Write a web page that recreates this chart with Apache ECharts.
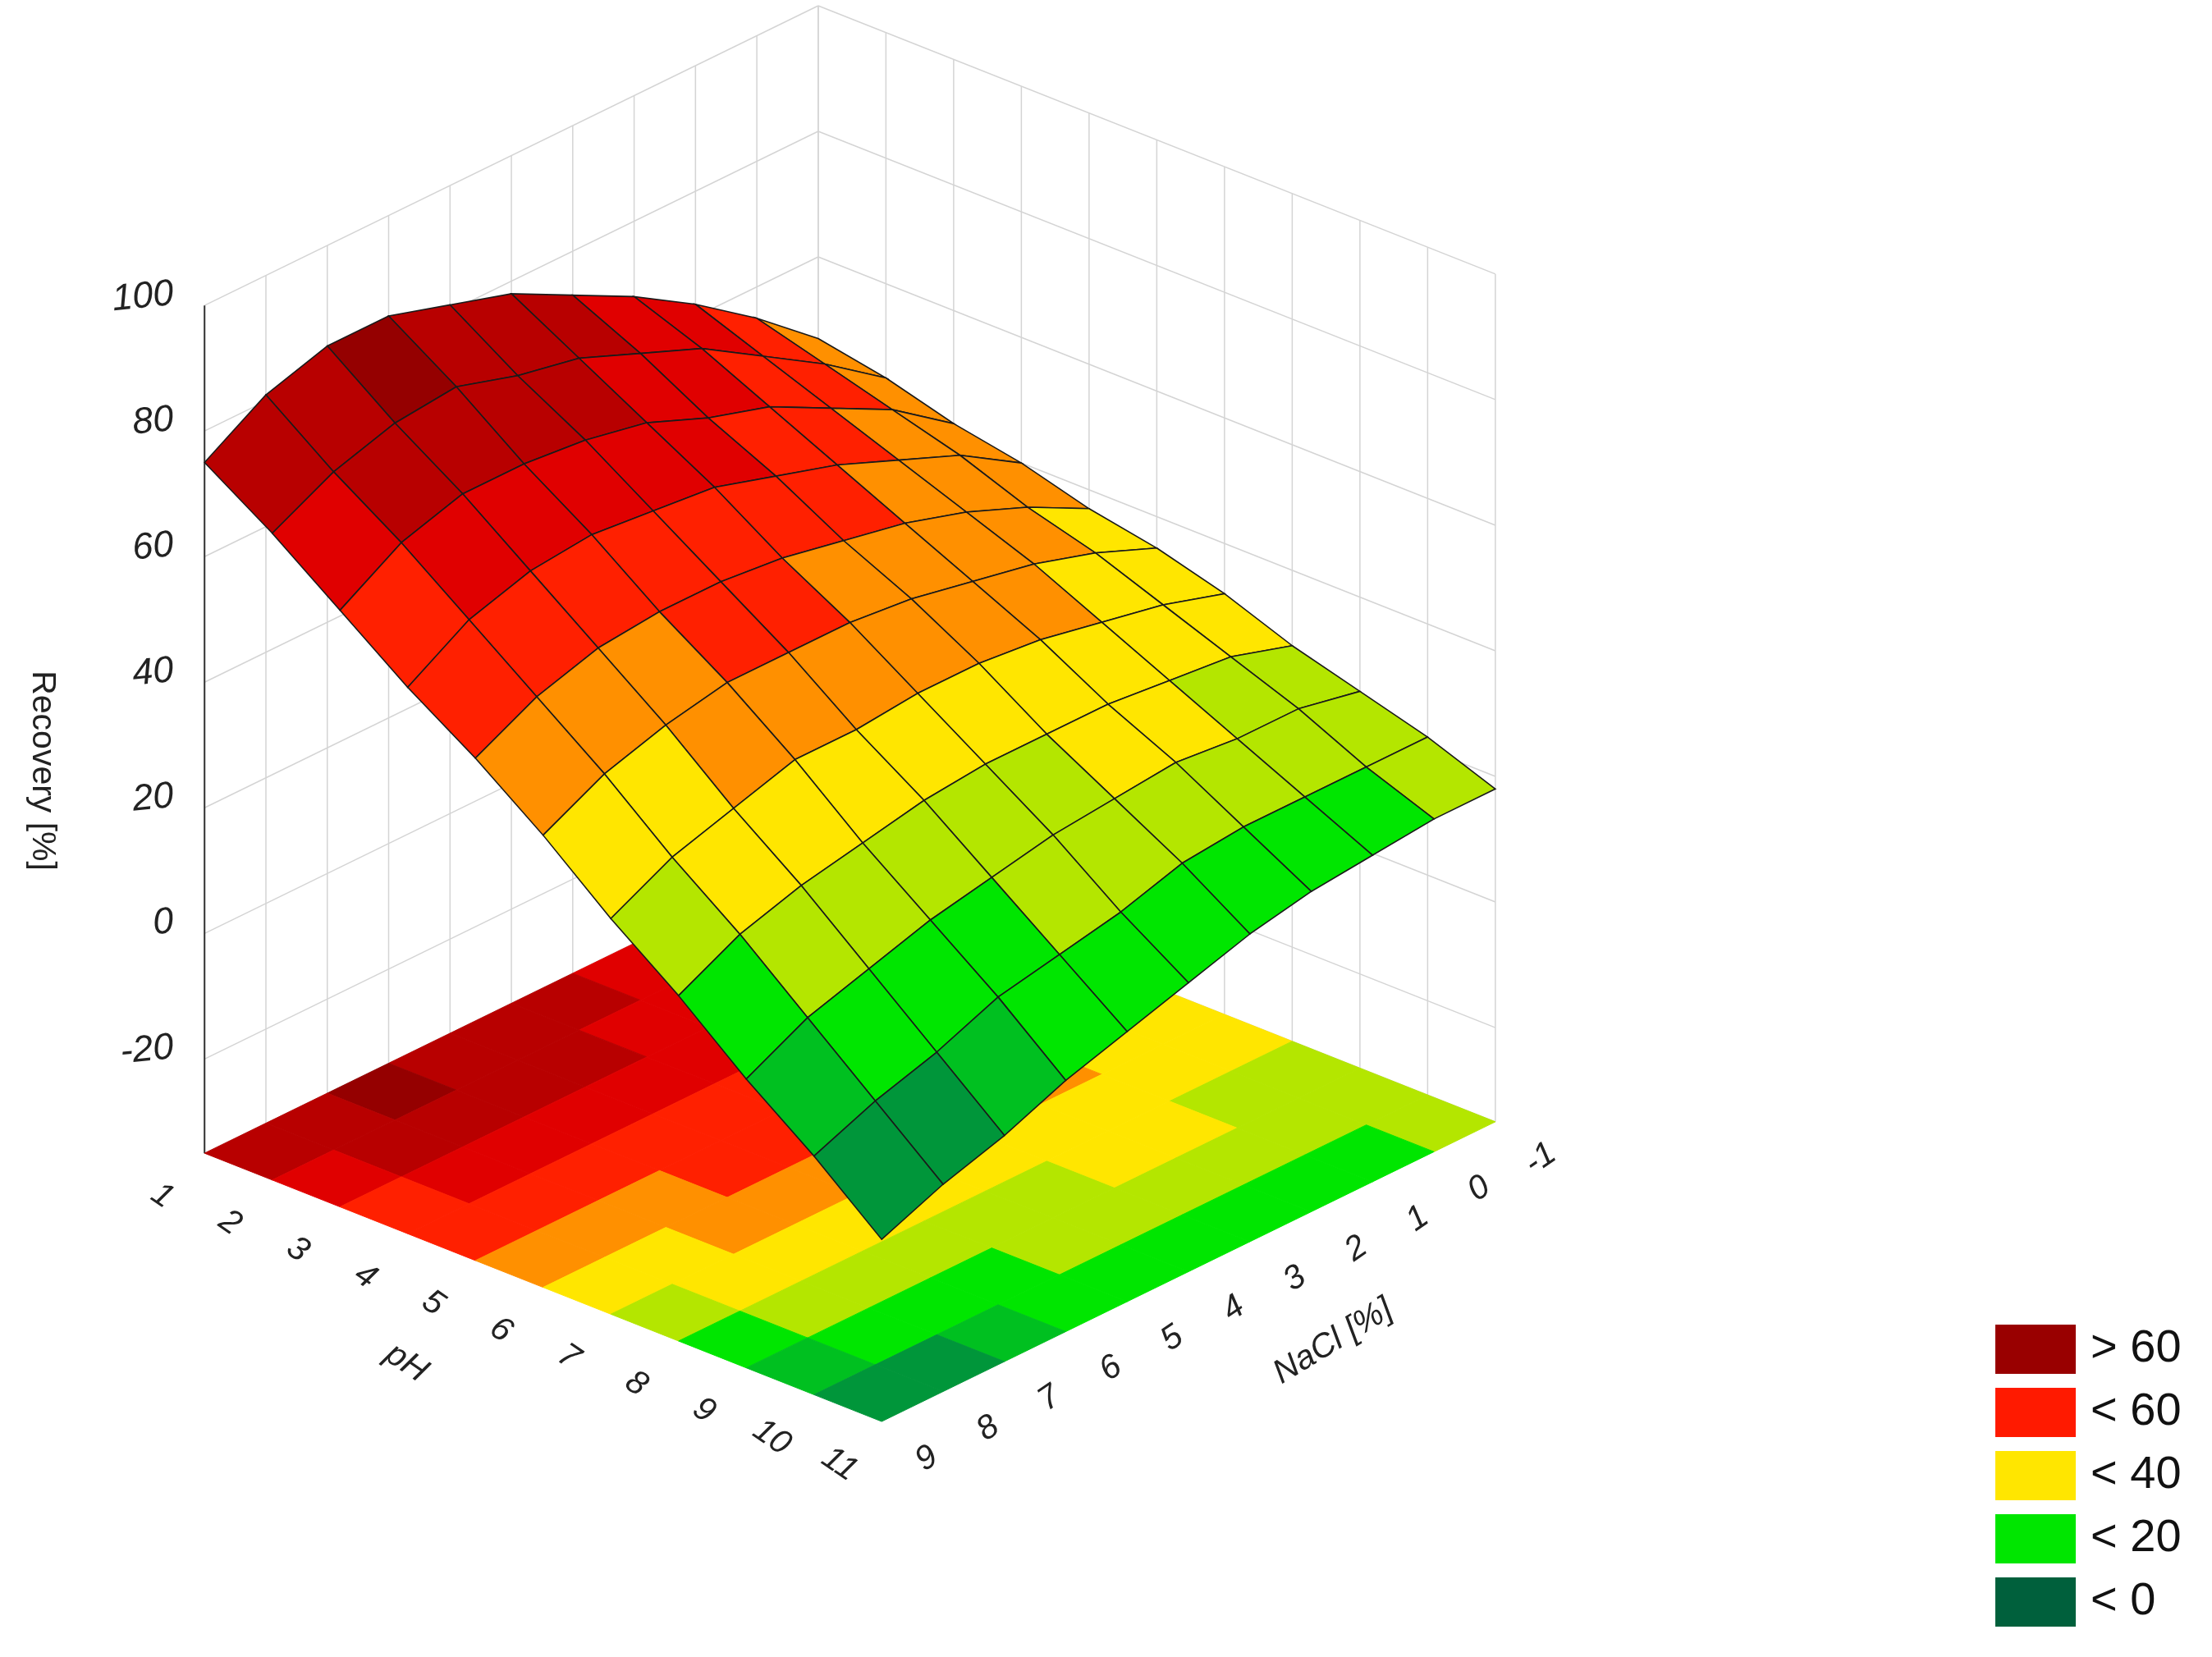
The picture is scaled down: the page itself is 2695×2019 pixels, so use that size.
<!DOCTYPE html>
<html lang="en">
<head>
    <meta charset="UTF-8">
    <title>Recovery surface</title>
    <style>
        html, body { margin: 0; height: 100%; width: 100%; background: #fff; }
    </style>
</head>
<body>
    <div id="main" style="width: 100%;height:100%;"></div>
    <script src="https://cdn.jsdelivr.net/npm/echarts@6/dist/echarts.min.js"></script>
    <script type="text/javascript">
        // axis values
        var PH = [1, 2, 3, 4, 5, 6, 7, 8, 9, 10, 11];
        var NACL = [-1, 0, 1, 2, 3, 4, 5, 6, 7, 8, 9];
        var Z_TICKS = [-20, 0, 20, 40, 60, 80, 100];
        // Recovery [%], one row per pH, columns follow NACL
        var RECOVERY = [
            [47, 55, 62, 68, 73, 78, 81, 84, 84, 81, 75],
            [45, 52, 58, 64, 68, 72, 74, 77, 76, 73, 68],
            [42, 49, 54, 59, 62, 66, 68, 69, 69, 66, 60],
            [40, 46, 50, 54, 57, 60, 61, 62, 61, 58, 52],
            [37, 42, 46, 49, 51, 53, 54, 54, 53, 50, 45],
            [35, 39, 42, 44, 46, 47, 47, 47, 45, 42, 37],
            [32, 35, 37, 39, 40, 40, 39, 39, 36, 33, 28],
            [28, 31, 32, 33, 33, 33, 32, 30, 28, 25, 20],
            [25, 27, 27, 28, 27, 26, 24, 22, 19, 16, 11],
            [22, 22, 22, 22, 21, 18, 16, 14, 10, 7, 3],
            [18, 18, 17, 16, 14, 11, 8, 5, 1, -2, -6]
        ];
        var LEGEND_LABELS = ['> 60', '< 60', '< 40', '< 20', '< 0'];

        var ZMIN = -35, ZMAX = 100;
        var S = 2695 / 1568;   // font scale

        // simple oblique projection into a 1568x1161 plane
        function proj(p, n, z) {
            var a = (p - PH[0]) / (PH[PH.length - 1] - PH[0]);
            var b = (n - NACL[0]) / (NACL[NACL.length - 1] - NACL[0]);
            return [580 + 480 * a - 435 * b, 598 + 188 * a + 210 * b - (z - ZMIN) * 4.4];
        }

        function bandColor(v) {
            var stops = [
                [-10, '#004d33'], [0, '#006b3a'], [5, '#00963a'], [10, '#00c020'],
                [20, '#00e600'], [30, '#b4e600'], [40, '#ffe600'], [50, '#ff9000'],
                [60, '#ff2000'], [70, '#e00000'], [80, '#b80000']
            ];
            for (var i = 0; i < stops.length; i++) {
                if (v < stops[i][0]) return stops[i][1];
            }
            return '#950000';
        }

        var cells = [];
        for (var i = 0; i < PH.length - 1; i++) {
            for (var j = 0; j < NACL.length - 1; j++) cells.push([i, j]);
        }
        cells.sort(function (u, v) { return (u[0] + u[1]) - (v[0] + v[1]); });

        function cellItem(api, onFloor) {
            var i = api.value(0), j = api.value(1);
            var c = [[i, j], [i + 1, j], [i + 1, j + 1], [i, j + 1]];
            var sum = 0;
            var pts = c.map(function (k) {
                var v = RECOVERY[k[0]][k[1]];
                sum += v;
                return api.coord(proj(PH[k[0]], NACL[k[1]], onFloor ? ZMIN : v));
            });
            var col = bandColor(sum / 4);
            return {
                type: 'polygon',
                shape: { points: pts },
                style: {
                    fill: col,
                    stroke: onFloor ? col : '#1a1a1a',
                    lineWidth: onFloor ? 1 : 1.6
                }
            };
        }

        function frame(params, api) {
            var kids = [];
            var gray = '#d4d4d4';
            function line(p1, p2, color, w) {
                var a = api.coord(p1), b = api.coord(p2);
                kids.push({ type: 'line', shape: { x1: a[0], y1: a[1], x2: b[0], y2: b[1] },
                    style: { stroke: color, lineWidth: w } });
            }
            function text(pt, str, opt) {
                var c = api.coord(pt);
                kids.push({ type: 'text', x: c[0], y: c[1], rotation: opt.rot || 0,
                    style: { text: str, fill: '#222', font: (opt.plain ? '' : 'italic ') + Math.round(opt.size * S) + 'px "Liberation Sans"',
                        align: opt.align || 'center', verticalAlign: 'middle' } });
            }
            var p0 = PH[0], p1 = PH[PH.length - 1], n0 = NACL[0], n1 = NACL[NACL.length - 1];
            var levels = [ZMIN].concat(Z_TICKS);
            // back walls
            levels.forEach(function (z) {
                line(proj(p0, n1, z), proj(p0, n0, z), gray, 1.5);
                line(proj(p0, n0, z), proj(p1, n0, z), gray, 1.5);
            });
            NACL.forEach(function (n) { line(proj(p0, n, ZMIN), proj(p0, n, ZMAX), gray, 1.5); });
            PH.forEach(function (p) { line(proj(p, n0, ZMIN), proj(p, n0, ZMAX), gray, 1.5); });
            // z axis
            line(proj(p0, n1, ZMIN), proj(p0, n1, ZMAX), '#333', 2);
            Z_TICKS.forEach(function (z) {
                var q = proj(p0, n1, z);
                text([q[0] - 22, q[1] - 8], String(z), { size: 26, align: 'right', rot: 0.1 });
            });
            PH.forEach(function (p) {
                var q = proj(p, n1, ZMIN);
                text([q[0] - 30, q[1] + 30], String(p), { size: 24, rot: -0.6 });
            });
            NACL.forEach(function (n) {
                var q = proj(p1, n, ZMIN);
                text([q[0] + 32, q[1] + 26], String(n), { size: 24, rot: 0.6 });
            });
            text([30, 540], 'Recovery [%]', { size: 24, rot: -Math.PI / 2, plain: true });
            text([288, 955], 'pH', { size: 24, rot: -0.6 });
            text([945, 940], 'NaCl [%]', { size: 24, rot: 0.55 });
            return { type: 'group', children: kids };
        }

        var myChart = echarts.init(document.getElementById('main'));
        var option = {
            animation: false,
            grid: { left: 0, right: 0, top: 0, bottom: 0 },
            xAxis: { type: 'value', min: 0, max: 1568, show: false },
            yAxis: { type: 'value', min: 0, max: 1161, inverse: true, show: false },
            visualMap: {
                type: 'piecewise',
                seriesIndex: 3,
                orient: 'vertical',
                align: 'left',
                left: 2416,
                bottom: 22,
                itemWidth: 98,
                itemHeight: 60,
                itemGap: 17,
                itemSymbol: 'rect',
                textGap: 18,
                textStyle: { fontSize: 56, color: '#111', fontFamily: 'Liberation Sans' },
                pieces: [
                    { gt: 60, label: LEGEND_LABELS[0], color: '#990000' },
                    { gt: 40, lte: 60, label: LEGEND_LABELS[1], color: '#ff1a00' },
                    { gt: 20, lte: 40, label: LEGEND_LABELS[2], color: '#ffe600' },
                    { gt: 0, lte: 20, label: LEGEND_LABELS[3], color: '#00e600' },
                    { lte: 0, label: LEGEND_LABELS[4], color: '#00603c' }
                ]
            },
            series: [
                { type: 'custom', renderItem: frame, data: [[0, 0]], silent: true },
                { type: 'custom', renderItem: function (p, api) { return cellItem(api, true); }, data: cells, silent: true },
                { type: 'custom', renderItem: function (p, api) { return cellItem(api, false); }, data: cells, silent: true },
                { type: 'scatter', data: [], symbolSize: 0 }
            ]
        };
        myChart.setOption(option);
        window.addEventListener("resize", function () {
            myChart.resize();
        });
    </script>
</body>
</html>
